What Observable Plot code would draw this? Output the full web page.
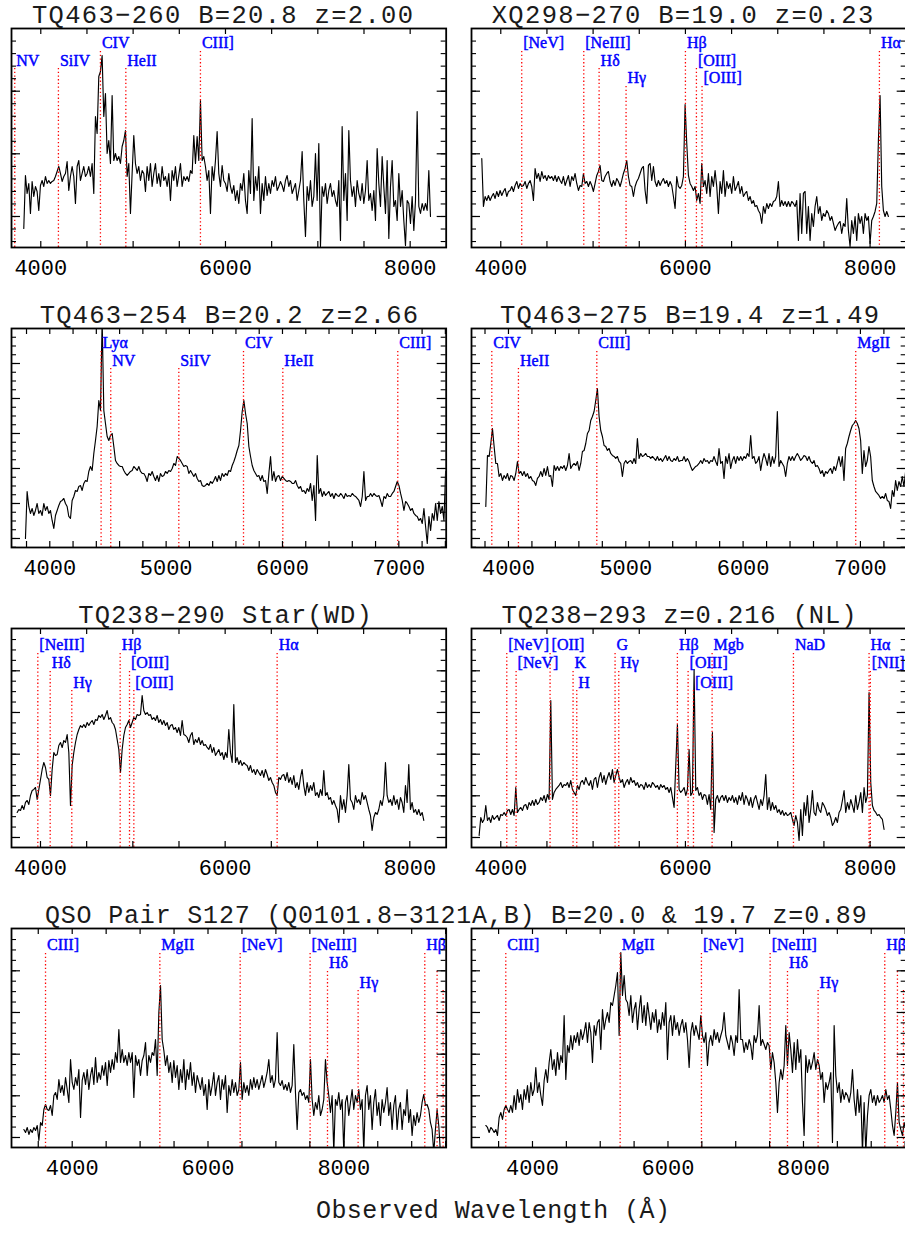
<!DOCTYPE html>
<html><head><meta charset="utf-8">
<script src="https://cdn.jsdelivr.net/npm/d3@7"></script>
<script src="https://cdn.jsdelivr.net/npm/@observablehq/plot@0.6"></script>
<style>
html,body{margin:0;padding:0;background:#fff;}
#page{position:relative;width:905px;height:1238px;overflow:hidden;background:#fff;}
#page svg{position:absolute;}
</style>
</head><body><div id="page"></div>
<script>
// ---------- spectra: flux (arbitrary units) on a uniform wavelength grid (start, step in Å) ----------
const tq463_260_start = 3815.9, tq463_260_step = 18.05;
const tq463_260_flux = [19,72,54,64,34,66,51,61,56,37,62,67,61,71,64,67,64,66,67,71,76,81,74,66,71,74,86,57,71,81,71,44,81,87,67,74,81,71,74,81,71,84,54,131,114,171,176,192,131,154,94,107,84,152,87,94,87,91,84,101,107,117,71,84,34,74,112,84,74,81,67,77,74,56,81,67,84,61,74,84,64,74,61,81,67,71,61,74,47,77,67,81,61,72,84,61,71,67,71,66,77,74,112,84,111,87,147,87,91,81,67,77,34,81,67,87,116,74,61,82,67,64,56,74,61,54,62,47,57,44,64,57,74,47,34,77,54,129,47,71,57,81,34,64,47,71,52,64,54,67,61,71,57,61,66,62,56,67,72,61,67,54,59,64,47,57,67,96,47,11,61,47,67,41,51,94,47,104,1,61,51,64,44,57,64,51,57,47,41,67,7,121,47,74,27,117,67,51,61,41,67,54,47,64,44,57,87,47,54,37,57,27,99,64,41,91,61,34,87,9,61,87,41,47,27,74,41,57,27,2,47,44,24,51,17,47,136,41,34,44,37,44,37,77,31];

const xq298_270_start = 3794.2, xq298_270_step = 18.05;
const xq298_270_flux = [89,41,51,47,52,47,51,54,49,56,51,57,52,56,59,51,56,57,61,56,62,66,59,64,61,62,66,59,64,67,61,47,79,69,74,66,76,69,72,67,72,69,71,67,72,66,71,67,64,71,62,67,72,61,71,67,74,64,57,62,61,74,64,66,61,66,62,56,64,72,76,82,67,66,71,74,76,66,61,67,62,69,66,61,67,74,79,87,71,62,61,51,61,66,69,74,79,81,57,44,82,84,67,81,66,61,67,62,66,69,64,67,61,66,62,51,39,71,61,59,62,71,143,104,72,64,61,57,61,47,54,44,84,61,67,54,74,51,71,61,77,61,34,66,54,77,51,66,59,64,54,71,57,61,66,54,61,51,54,56,47,51,44,47,41,42,37,34,24,41,34,44,39,44,41,46,47,51,66,41,47,42,46,41,46,41,46,44,41,47,7,54,14,54,56,14,41,7,34,21,41,51,34,41,27,34,31,37,34,27,31,24,17,21,24,26,14,24,21,49,17,1,27,14,31,7,34,24,31,14,34,27,31,4,27,31,36,44,107,152,61,37,31,36,31];

const tq463_254_start = 3790.9, tq463_254_step = 14.33;
const tq463_254_flux = [9,56,41,34,39,32,37,44,34,37,32,44,37,41,34,37,27,19,32,37,42,46,47,49,44,41,31,29,47,51,57,56,61,62,57,64,67,66,76,81,77,94,107,121,147,137,227,137,124,111,107,112,114,101,87,84,82,81,81,77,74,72,74,76,77,81,79,77,81,76,74,74,71,66,74,72,76,71,67,72,66,74,71,72,76,74,77,76,79,84,82,91,89,87,84,81,82,81,74,77,74,71,74,69,66,67,62,61,62,64,62,66,64,67,71,66,72,67,74,71,74,72,77,76,82,86,91,97,102,117,136,147,134,124,101,91,82,77,74,71,72,67,72,66,67,54,74,91,67,76,66,71,72,67,71,69,67,66,67,66,64,64,67,62,59,61,56,57,54,59,56,64,47,62,27,92,54,59,51,56,52,54,56,51,54,49,54,52,51,54,52,49,54,51,52,51,54,52,51,49,47,41,51,76,47,51,51,54,51,54,52,51,52,47,41,51,49,54,51,51,54,56,61,66,62,54,47,37,46,44,41,37,39,34,32,31,27,29,24,39,21,4,31,17,34,27,44,27,46,34,41,27,76];

const tq463_275_start = 3806.8, tq463_275_step = 14.2;
const tq463_275_flux = [41,92,91,104,119,101,84,84,71,74,67,72,69,74,67,72,71,67,74,86,74,76,72,76,71,74,69,71,67,66,62,69,71,76,71,79,72,81,71,72,61,82,77,81,77,81,79,82,77,82,94,79,82,84,82,86,77,84,96,97,104,114,117,127,131,136,147,159,131,117,111,102,101,97,99,94,92,91,89,91,86,84,71,84,87,84,86,87,84,89,84,109,89,94,91,92,94,91,91,89,91,89,87,91,87,89,86,89,92,87,91,87,86,89,87,91,86,87,87,91,86,89,86,81,77,79,81,82,84,87,84,89,86,87,84,87,86,91,86,82,99,84,86,69,91,84,94,79,87,91,84,91,87,91,87,91,89,94,91,112,89,91,84,86,91,77,87,94,89,82,94,81,91,84,91,136,81,87,84,81,71,84,91,87,91,87,91,94,91,87,89,92,91,87,91,86,84,87,81,82,79,74,77,71,76,74,77,79,74,81,77,84,91,81,91,67,99,104,111,117,122,124,127,124,119,107,74,97,81,87,101,91,67,61,56,54,52,49,51,49,54,47,46,39,57,51,67,57,66,61,71,61,76];

const tq238_290_start = 3747.3, tq238_290_step = 18.05;
const tq238_290_flux = [35,38,37,42,38,45,47,43,52,57,58,60,48,58,68,78,85,80,70,68,52,78,95,92,93,102,105,100,107,105,113,95,42,82,95,105,113,118,122,120,123,120,125,122,125,127,123,128,127,132,130,133,128,132,137,128,130,125,123,118,108,98,75,98,112,120,123,127,120,125,130,128,133,132,133,152,137,133,135,132,133,128,130,127,132,125,128,123,127,122,125,118,122,123,118,120,115,120,112,127,113,112,110,105,112,115,103,108,105,110,103,107,102,103,100,98,103,95,100,92,95,98,92,95,88,95,90,118,95,85,143,85,90,83,87,82,85,83,82,77,82,75,78,73,78,75,72,77,70,78,73,67,70,65,62,55,52,70,68,72,73,67,75,65,70,63,72,60,65,58,70,78,62,52,65,55,62,57,65,52,55,50,58,52,77,52,55,48,50,43,47,42,38,25,52,38,48,35,52,83,48,45,38,52,45,48,43,55,48,52,45,38,32,17,30,35,33,38,47,42,52,85,52,45,48,42,52,43,48,38,50,45,35,62,45,83,38,45,35,38,33,38,32,35,27];

const tq238_293_start = 3765.4, tq238_293_step = 18.05;
const tq238_293_flux = [12,30,25,28,42,27,30,25,32,28,30,32,27,33,32,35,32,37,38,33,38,32,60,35,38,40,37,42,43,38,45,42,47,42,48,43,45,50,47,52,45,53,48,147,48,55,58,60,62,65,60,63,62,65,60,67,58,55,52,62,58,65,67,63,70,65,62,67,58,68,70,60,70,75,65,72,63,70,75,68,78,65,72,78,70,65,68,60,65,68,63,70,65,67,62,65,60,63,62,58,65,60,63,60,65,63,60,62,58,63,60,62,58,60,55,60,50,40,82,123,58,55,57,60,52,58,98,52,55,178,57,60,52,55,48,53,52,43,53,38,115,15,48,52,45,50,52,47,52,45,50,47,52,45,50,43,52,47,55,43,52,48,42,50,40,48,52,45,38,48,42,52,73,38,50,37,45,38,42,35,38,33,37,32,35,32,33,35,28,22,32,25,7,38,12,45,32,52,25,38,57,35,32,45,38,35,45,42,38,32,35,30,22,25,30,25,35,38,47,57,35,45,38,48,42,35,52,38,45,55,35,60,45,52,155,65,42,37,35,32,33,30,28,18];

const s127a_start = 3288.3, s127a_step = 24.54;
const s127a_flux = [18,15,20,13,18,15,20,17,22,7,25,22,38,43,38,37,42,32,52,55,48,68,55,62,52,70,58,45,88,65,58,70,62,78,30,67,75,63,78,58,72,80,63,90,65,75,68,82,72,85,62,87,75,88,78,95,85,118,85,98,85,92,82,95,85,95,50,92,82,88,72,87,92,105,72,92,85,95,92,108,72,135,162,108,97,82,92,75,85,65,87,70,82,58,78,65,88,58,78,68,85,62,75,55,72,65,58,70,52,63,38,68,52,62,75,52,65,72,48,68,58,72,35,62,52,68,55,65,52,58,85,48,65,55,62,52,68,58,70,60,68,58,65,72,60,67,75,88,65,72,60,68,115,65,62,67,58,63,57,65,55,62,103,55,18,55,58,52,55,48,52,45,88,48,32,45,38,52,32,38,48,88,65,52,35,52,-5,48,42,55,38,48,-5,45,52,32,45,58,38,52,45,58,38,48,-5,52,62,38,52,18,45,58,32,45,22,48,35,45,60,32,45,18,42,52,18,38,45,18,38,32,58,25,38,12,32,22,35,25,32,45,53,42,43,38,25,18,-5,18,38,22,-5];

const s127b_start = 3311.2, s127b_step = 24.6;
const s127b_flux = [22,20,15,20,18,15,18,12,30,35,28,38,42,38,35,42,35,52,38,58,45,53,38,58,48,62,45,65,52,58,80,55,65,52,42,67,78,65,85,98,78,88,72,95,78,92,85,132,68,102,95,112,98,112,105,115,102,118,108,115,125,105,125,115,85,122,112,125,128,98,138,118,128,135,125,145,142,152,162,175,112,195,152,172,148,145,132,152,125,138,145,118,138,152,125,142,122,145,132,118,135,125,138,115,128,118,135,122,145,88,125,132,112,132,118,125,112,122,128,115,125,108,80,115,125,112,122,115,108,132,112,105,115,82,105,112,102,118,108,115,105,112,118,135,112,105,98,112,105,92,112,105,158,108,108,95,105,98,108,102,88,112,105,112,142,102,108,103,98,105,102,78,95,85,65,35,65,78,68,82,122,82,115,98,75,105,78,108,85,98,45,12,92,75,88,78,85,95,78,88,82,68,75,45,65,58,65,75,5,122,72,55,65,45,58,48,55,52,45,55,78,48,32,58,35,52,-5,45,-5,32,52,58,45,52,42,52,45,48,52,45,58,48,52,38,22,12,35,65,25,18,12,25,18];

// ---------- line identifications: observed wavelength (Å) and label row ----------
const tq463_260_lineNames = ["NV","SiIV","CIV","HeII","CIII]"];
const tq463_260_lineWaves = [3718,4191,4646,4921,5729];
const tq463_260_lineRows  = [2,2,1,2,1];

const xq298_270_lineNames = ["[NeV]","[NeIII]","Hδ","Hγ","Hβ","[OIII]","[OIII]","Hα"];
const xq298_270_lineWaves = [4227,4899,5065,5357,6000,6119,6180,8101];
const xq298_270_lineRows  = [1,1,2,3,1,2,3,1];

const tq463_254_lineNames = ["Lyα","NV","SiIV","CIV","HeII","CIII]"];
const tq463_254_lineWaves = [4441,4524,5109,5665,6003,6991];
const tq463_254_lineRows  = [1,2,2,1,2,1];

const tq463_275_lineNames = ["CIV","HeII","CIII]","MgII"];
const tq463_275_lineWaves = [3858,4085,4753,6960];
const tq463_275_lineRows  = [1,2,1,1];

const tq238_290_lineNames = ["[NeIII]","Hδ","Hγ","Hβ","[OIII]","[OIII]","Hα"];
const tq238_290_lineWaves = [3971,4105,4339,4863,4964,5011,6563];
const tq238_290_lineRows  = [1,2,3,1,2,3,1];

const tq238_293_lineNames = ["[NeV]","[NeV]","[OII]","K","H","G","Hγ","Hβ","[OIII]","[OIII]","Mgb","NaD","Hα","[NII]"];
const tq238_293_lineWaves = [4065,4166,4534,4783,4823,5238,5278,5913,6029,6087,6289,7170,7989,8003];
const tq238_293_lineRows  = [1,2,1,2,3,1,2,1,2,3,1,1,1,2];

// the two [OIII] markers at the red end of the S127 spectra carry no visible label
const s127_lineNames = ["CIII]","MgII","[NeV]","[NeIII]","Hδ","Hγ","Hβ","",""];
const s127a_lineWaves = [3607,5291,6474,7504,7760,8211,9193,9374,9463];
const s127b_lineWaves = [3606,5294,6494,7508,7764,8216,9200,9387,9476];
const s127_lineRows = [1,1,1,1,2,3,1,2,3];

// ---------- titles and axis text ----------
const titles = [
  "TQ463−260 B=20.8 z=2.00", "XQ298−270 B=19.0 z=0.23",
  "TQ463−254 B=20.2 z=2.66", "TQ463−275 B=19.4 z=1.49",
  "TQ238−290 Star(WD)", "TQ238−293 z=0.216 (NL)",
  "QSO Pair S127 (Q0101.8−3121A,B) B=20.0 & 19.7 z=0.89"
];
const xAxisTitle = "Observed Wavelength (Å)";

// x-axis domains (Å) and tick values per panel
const xDomains = [[3683,8390],[3683,8391],[3671,7407],[3685,7390],[3686,8394],[3683,8391],[3106,9508],[3100,9516]];
const xLabelTicks = [[4000,6000,8000],[4000,6000,8000],[4000,5000,6000,7000],[4000,5000,6000,7000],[4000,6000,8000],[4000,6000,8000],[4000,6000,8000],[4000,6000,8000]];
const xMinorStep = [500,500,200,200,500,500,500,500];

// ---------- layout ----------
const FW = 434.7, FH = 219;
const rowTops = [28.3, 328.3, 627.7, 927.7];
const colLefts = [11, 470.7];
const tierBase = [[20,37.5,55],[20,37.5,55],[22,40,60],[22,40,60]];
const tierRule = [[23,40,58],[23,40,58],[25,43,62],[25,43,62]];
const yTickSpec = [
  {major:[31,93.7,156.3], start:5.94, step:12.53},
  {major:[9,44,79,114,149,184], start:0.25, step:8.75},
  {major:[10,51.7,93.3,135,176.7], start:10, step:10.42},
  {major:[10,51.7,93.3,135,176.7], start:10, step:10.42}
];

function series(start, step, flux){ return flux.map((f,i)=>({w:start+i*step, f})); }
function lineTable(names, waves, rows){ return names.map((n,i)=>({name:n, w:waves[i], row:rows[i]})); }

const panels = [
  {spec: series(tq463_260_start,tq463_260_step,tq463_260_flux), lines: lineTable(tq463_260_lineNames,tq463_260_lineWaves,tq463_260_lineRows)},
  {spec: series(xq298_270_start,xq298_270_step,xq298_270_flux), lines: lineTable(xq298_270_lineNames,xq298_270_lineWaves,xq298_270_lineRows)},
  {spec: series(tq463_254_start,tq463_254_step,tq463_254_flux), lines: lineTable(tq463_254_lineNames,tq463_254_lineWaves,tq463_254_lineRows)},
  {spec: series(tq463_275_start,tq463_275_step,tq463_275_flux), lines: lineTable(tq463_275_lineNames,tq463_275_lineWaves,tq463_275_lineRows)},
  {spec: series(tq238_290_start,tq238_290_step,tq238_290_flux), lines: lineTable(tq238_290_lineNames,tq238_290_lineWaves,tq238_290_lineRows)},
  {spec: series(tq238_293_start,tq238_293_step,tq238_293_flux), lines: lineTable(tq238_293_lineNames,tq238_293_lineWaves,tq238_293_lineRows)},
  {spec: series(s127a_start,s127a_step,s127a_flux), lines: lineTable(s127_lineNames,s127a_lineWaves,s127_lineRows)},
  {spec: series(s127b_start,s127b_step,s127b_flux), lines: lineTable(s127_lineNames,s127b_lineWaves,s127_lineRows)}
];

const page = document.getElementById("page");
const ML = 20, MR = 20, MT = 2, MB = 38;

panels.forEach((p, i) => {
  const row = Math.floor(i/2), col = i % 2;
  const dom = xDomains[i];
  const yt = yTickSpec[row];
  const yMinor = d3.range(yt.start, FH - 1, yt.step);
  const xMinor = d3.range(Math.ceil(dom[0]/xMinorStep[i])*xMinorStep[i], dom[1]-5, xMinorStep[i]);
  const marks = [
    Plot.line(p.spec, {x:"w", y:"f", stroke:"black", strokeWidth:1.15, clip:true})
  ];
  for (let t = 0; t < 3; t++) {
    const L = p.lines.filter(d => d.row === t+1);
    marks.push(Plot.ruleX(L, {x:"w", insetTop: tierRule[row][t], stroke:"#ff0000", strokeWidth:1.3, strokeDasharray:"1.3,2.4", clip:true}));
    marks.push(Plot.text(L.filter(d => d.name), {x:"w", text:"name", frameAnchor:"top", dy: tierBase[row][t], dx: 1.5, textAnchor:"start", lineAnchor:"bottom",
      fill:"#0000ff", stroke:"#0000ff", strokeWidth:0.45, fontFamily:"Liberation Serif", fontSize:16, clip:true}));
  }
  marks.push(
    Plot.tickY(yt.major, {y:d=>d, insetRight: FW-9, stroke:"black", strokeWidth:1.2}),
    Plot.tickY(yt.major, {y:d=>d, insetLeft: FW-9, stroke:"black", strokeWidth:1.2}),
    Plot.tickY(yMinor, {y:d=>d, insetRight: FW-5, stroke:"black", strokeWidth:1.1}),
    Plot.tickY(yMinor, {y:d=>d, insetLeft: FW-5, stroke:"black", strokeWidth:1.1}),
    Plot.tickX(xMinor, {x:d=>d, insetBottom: FH-6, stroke:"black", strokeWidth:1.2}),
    Plot.tickX(xMinor, {x:d=>d, insetTop: FH-6, stroke:"black", strokeWidth:1.2}),
    Plot.axisX(xLabelTicks[i], {tickSize:0, tickPadding:12, label:null, tickFormat:d=>String(d), fontSize:22, fontFamily:"Liberation Mono"}),
    Plot.frame({stroke:"black", strokeWidth:1.8})
  );
  const svg = Plot.plot({
    width: ML+FW+MR, height: MT+FH+MB,
    marginLeft: ML, marginRight: MR, marginTop: MT, marginBottom: MB,
    x: {domain: dom, label: null},
    y: {domain: [0, FH], axis: null},
    style: {background:"transparent", color:"black", fontFamily:"Liberation Mono", overflow:"visible"},
    marks
  });
  svg.style.left = (colLefts[col] - ML) + "px";
  svg.style.top = (rowTops[row] - MT) + "px";
  page.appendChild(svg);
});

// titles (centre x, baseline y, total width) drawn above the plots
const titlePlacement = [
  [222.5, 22.7, 381], [682.5, 22.7, 381.6],
  [229, 322.7, 378.3], [689.5, 322.7, 379],
  [225, 623.3, 293.4], [679, 623.3, 355],
  [455.8, 923.3, 821.7]
];
const ns = "http://www.w3.org/2000/svg";
const over = document.createElementNS(ns, "svg");
over.setAttribute("width", 905); over.setAttribute("height", 1238);
over.style.left = "0px"; over.style.top = "0px"; over.style.pointerEvents = "none";
function addText(str, cx, by, w, size){
  const t = document.createElementNS(ns, "text");
  t.setAttribute("x", cx); t.setAttribute("y", by);
  t.setAttribute("text-anchor", "middle");
  t.setAttribute("font-family", "Liberation Mono");
  t.setAttribute("font-size", size);
  t.setAttribute("textLength", w);
  t.setAttribute("lengthAdjust", "spacing");
  t.setAttribute("fill", "#1a1a1a");
  t.textContent = str;
  over.appendChild(t);
}
titles.forEach((s, i) => addText(s, titlePlacement[i][0], titlePlacement[i][1], titlePlacement[i][2], i === 6 ? 25 : 25.5));
addText(xAxisTitle, 493, 1218, 354, 25);
page.appendChild(over);
</script>
</body></html>
